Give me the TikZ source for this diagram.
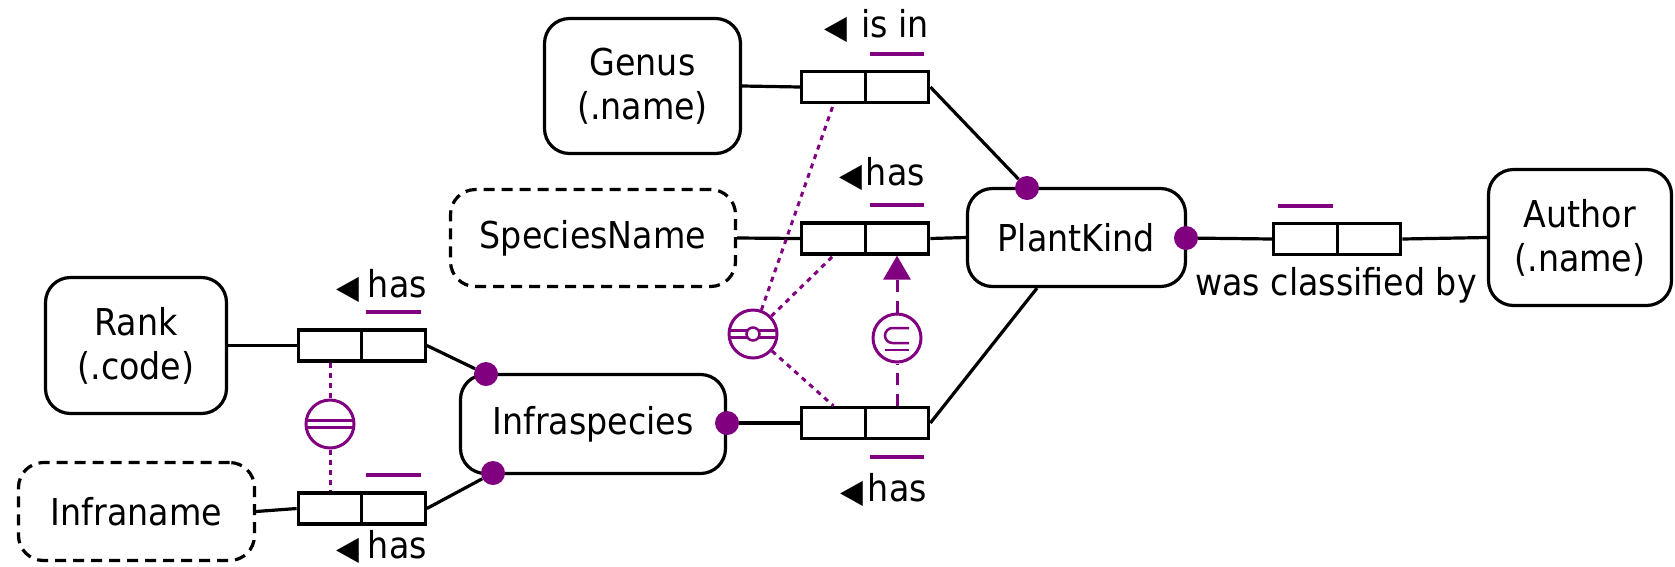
\documentclass[tikz,border=0pt]{standalone}
\usepackage{fontspec}
\setmainfont{DejaVu Sans Condensed}
\usetikzlibrary{arrows.meta}
\definecolor{orm}{RGB}{128,0,128}
% reading-direction marker for role labels
\newcommand\readdir{{\fontsize{33}{33}\selectfont\raisebox{-1pt}{◀}}}
\begin{document}
\begin{tikzpicture}[x=1pt,y=-1pt,
  every node/.style={font=\fontsize{37}{44}\selectfont},
  entity/.style={draw, line width=3.2pt, rounded corners=25pt, align=center, inner sep=0pt},
  valuetype/.style={entity, dash pattern=on 11pt off 7pt},
  cell/.style={draw, line width=3.2pt, minimum width=63.5pt, minimum height=31pt, inner sep=0pt},
  link/.style={line width=3.2pt},
  ubar/.style={orm, line width=4pt},
  mand/.style={circle, fill=orm, minimum size=24pt, inner sep=0pt},
  cons/.style={circle, draw=orm, line width=3pt, minimum size=48pt, inner sep=0pt},
  sym/.style={orm, line width=2.5pt},
  cline/.style={orm, line width=3pt, dash pattern=on 5pt off 5pt},
  subline/.style={orm, line width=3pt, dash pattern=on 12pt off 9pt},
  lbl/.style={anchor=base east, inner sep=0pt},
]
\useasboundingbox (0,0) rectangle (1675,566);

% entity and value types
\node[entity, minimum width=196pt, minimum height=135pt] (genus) at (642.5,86) {Genus\\(.name)};
\node[valuetype, minimum width=285pt, minimum height=97pt] (species) at (593,238) {SpeciesName};
\node[entity, minimum width=181pt, minimum height=136pt] (rank) at (136,345.5) {Rank\\(.code)};
\node[valuetype, minimum width=236pt, minimum height=98pt] (infraname) at (136.5,511.5) {Infraname};
\node[entity, minimum width=265pt, minimum height=99pt] (infrasp) at (593,424) {Infraspecies};
\node[entity, minimum width=218pt, minimum height=98pt] (plant) at (1076.5,237.5) {PlantKind};
\node[entity, minimum width=183pt, minimum height=136pt] (author) at (1580,237.5) {Author\\(.name)};

% binary fact types: two role cells each
\node[cell] (r1a) at (833.5,87) {};   \node[cell] (r1b) at (897,87) {};
\node[cell] (r2a) at (833.5,238.5) {}; \node[cell] (r2b) at (897,238.5) {};
\node[cell] (r3a) at (833.5,423) {};  \node[cell] (r3b) at (897,423) {};
\node[cell] (r4a) at (330,345.5) {};  \node[cell] (r4b) at (393.5,345.5) {};
\node[cell] (r5a) at (330,508.5) {};  \node[cell] (r5b) at (393.5,508.5) {};
\node[cell] (r6a) at (1305.5,239) {}; \node[cell] (r6b) at (1369,239) {};

% uniqueness bars
\draw[ubar] ([xshift=6pt,yshift=16pt]r1b.north west) -- ([xshift=-6pt,yshift=16pt]r1b.north east);
\draw[ubar] ([xshift=6pt,yshift=16pt]r2b.north west) -- ([xshift=-6pt,yshift=16pt]r2b.north east);
\draw[ubar] ([xshift=6pt,yshift=-17pt]r3b.south west) -- ([xshift=-6pt,yshift=-17pt]r3b.south east);
\draw[ubar] ([xshift=6pt,yshift=16pt]r4b.north west) -- ([xshift=-6pt,yshift=16pt]r4b.north east);
\draw[ubar] ([xshift=6pt,yshift=16pt]r5b.north west) -- ([xshift=-6pt,yshift=16pt]r5b.north east);
\draw[ubar] ([xshift=6pt,yshift=16pt]r6a.north west) -- ([xshift=-6pt,yshift=16pt]r6a.north east);

% reading labels
\node[lbl] at (929,37) {\readdir\hspace{14pt}is in};
\node[lbl] at (925,185) {\readdir\hspace{4pt}has};
\node[lbl] at (927,501) {\readdir\hspace{5pt}has};
\node[lbl] at (427,297) {\readdir\hspace{9pt}has};
\node[lbl] at (427,558) {\readdir\hspace{9pt}has};
\node[anchor=base, inner sep=0pt] at (1336,295) {was classified by};

% mandatory role dots
\node[mand] (d1) at (1027,188) {};
\node[mand] (d2) at (1186,238) {};
\node[mand] (d3) at (486,374) {};
\node[mand] (d4) at (493,473) {};
\node[mand] (d5) at (727,423) {};

% role connectors
\draw[link] (genus.east) -- (r1a.west);
\draw[link] (r1b.east) -- (d1);
\draw[link] (species.east) -- (r2a.west);
\draw[link] (r2b.east) -- (plant.west);
\draw[link] (r3b.east) -- ([xshift=-39.5pt]plant.south);
\draw[link] (d5) -- (r3a.west);
\draw[link] (rank.east) -- (r4a.west);
\draw[link] (r4b.east) -- (d3);
\draw[link] (infraname.east) -- (r5a.west);
\draw[link] (r5b.east) -- (d4);
\draw[link] (d2) -- (r6a.west);
\draw[link] (r6b.east) -- (author.west);

% equality constraint
\node[cons] (eq) at (330,424) {};
\draw[sym] (eq.center) ++(-24,-3.5) -- ++(48,0);
\draw[sym] (eq.center) ++(-24,3.5) -- ++(48,0);
\draw[cline] (r4a.south) -- (eq);
\draw[cline] (eq) -- (r5a.north);

% external preferred uniqueness constraint
\node[cons] (ext) at (753,334) {};
\draw[sym] (ext.center) ++(-24,-3.5) -- ++(48,0);
\draw[sym] (ext.center) ++(-24,3.5) -- ++(48,0);
\draw[sym, fill=white] (ext.center) circle[radius=6.5];
\draw[cline] (ext) -- (r1a.south);
\draw[cline] (ext) -- (r2a.south);
\draw[cline] (ext) -- (r3a.north);

% subset constraint
\node[cons] (sub) at (897,338) {};
\draw[sym] (sub.center) ++(12,-10) -- ++(-16.5,0) arc[start angle=270, end angle=90, radius=7.5] -- ++(16.5,0);
\draw[sym] (sub.center) ++(-12,12) -- ++(24,0);
\draw[subline] (r3b.north) -- (sub);
\draw[subline, -{Triangle[length=24pt,width=27pt]}] (sub) -- (r2b.south);
\end{tikzpicture}
\end{document}
